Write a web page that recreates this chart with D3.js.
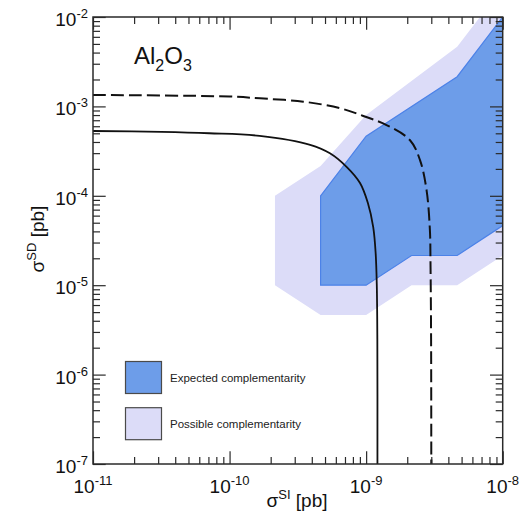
<!DOCTYPE html>
<html>
<head>
<meta charset="utf-8">
<script src="https://cdn.jsdelivr.net/npm/d3@7"></script>
<style>
  html, body { margin: 0; padding: 0; background: #fff; }
  svg { display: block; font-family: "Liberation Sans", Arial, Helvetica, sans-serif; }
</style>
</head>
<body>
<svg id="chart" width="532" height="519"></svg>
<script>
// Axis ranges and decade ticks (pb)
const xDomain = [1e-11, 1e-8];
const yDomain = [1e-7, 1e-2];
const xTickExps = [-11, -10, -9, -8];
const yTickExps = [-7, -6, -5, -4, -3, -2];

// Expected complementarity region (sigma_SI, sigma_SD)
const expectedSI = [4.64e-10, 1e-9, 4.64e-9, 1e-8, 1e-8, 4.64e-9, 2.15e-9, 1e-9, 4.64e-10];
const expectedSD = [1e-4, 4.64e-4, 2.15e-3, 1e-2, 4.64e-5, 2.15e-5, 2.15e-5, 1e-5, 1e-5];

// Possible complementarity region (sigma_SI, sigma_SD)
const possibleSI = [2.15e-10, 4.64e-10, 1e-9, 4.64e-9, 1e-8, 1e-8, 4.64e-9, 2.15e-9, 1e-9, 4.64e-10, 2.15e-10];
const possibleSD = [1e-4, 2.15e-4, 8e-4, 4.64e-3, 2.15e-2, 2.15e-5, 1e-5, 1e-5, 4.64e-6, 4.64e-6, 1e-5];

// Solid exclusion limit
const solidSI = [1e-11, 3.16e-11, 7.08e-11, 1.66e-10, 3.89e-10, 5.43e-10, 7.19e-10, 9.02e-10, 1.03e-9, 1.127e-9, 1.175e-9, 1.197e-9, 1.208e-9, 1.21e-9];
const solidSD = [5.31e-4, 5.19e-4, 5.01e-4, 4.68e-4, 3.72e-4, 2.99e-4, 2.11e-4, 1.39e-4, 8.3e-5, 4.47e-5, 2.24e-5, 1.0e-5, 2.5e-6, 1e-7];

// Dashed exclusion limit
const dashedSI = [1e-11, 1e-10, 1.67e-10, 3.47e-10, 6.43e-10, 9.53e-10, 1.41e-9, 2.09e-9, 2.48e-9, 2.77e-9, 2.93e-9, 2.96e-9, 2.99e-9, 3.0e-9];
const dashedSD = [1.34e-3, 1.29e-3, 1.23e-3, 1.13e-3, 9.55e-4, 7.82e-4, 6.19e-4, 4.21e-4, 2.51e-4, 1.16e-4, 4.14e-5, 1.78e-5, 2.45e-6, 1e-7];

const legendLabels = ["Expected complementarity", "Possible complementarity"];

const plotLeft = 93, plotRight = 502.7, plotTop = 17, plotBottom = 464;
const svg = d3.select("#chart");

const x = d3.scaleLog().domain(xDomain).range([plotLeft, plotRight]);
const y = d3.scaleLog().domain(yDomain).range([plotBottom, plotTop]);

const colors = { expected: "#6d9de9", expectedEdge: "#4c82e8", possible: "#dcdcf8" };

svg.append("defs").append("clipPath").attr("id", "plotClip")
  .append("rect").attr("x", plotLeft).attr("y", plotTop)
  .attr("width", plotRight - plotLeft).attr("height", plotBottom - plotTop);

const plot = svg.append("g").attr("clip-path", "url(#plotClip)");

const zip = (a, b) => a.map((v, i) => [v, b[i]]);
const area = d3.line().x(d => x(d[0])).y(d => y(d[1]));

plot.append("path")
  .datum(zip(possibleSI, possibleSD))
  .attr("d", d => area(d) + "Z")
  .attr("fill", colors.possible);

plot.append("path")
  .datum(zip(expectedSI, expectedSD))
  .attr("d", d => area(d) + "Z")
  .attr("fill", colors.expected)
  .attr("stroke", colors.expectedEdge)
  .attr("stroke-width", 1.2);

const curve = d3.line().x(d => x(d[0])).y(d => y(d[1])).curve(d3.curveCatmullRom.alpha(0.5));

plot.append("path")
  .datum(zip(dashedSI, dashedSD))
  .attr("d", curve)
  .attr("fill", "none").attr("stroke", "#111")
  .attr("stroke-width", 2).attr("stroke-dasharray", "13,5");

plot.append("path")
  .datum(zip(solidSI, solidSD))
  .attr("d", curve)
  .attr("fill", "none").attr("stroke", "#111")
  .attr("stroke-width", 1.8);

// Ticks on all four sides, pointing inward
function minorValues(exps) {
  const out = [];
  for (let i = 0; i < exps.length - 1; i++)
    for (let m = 2; m <= 9; m++) out.push(m * Math.pow(10, exps[i]));
  return out;
}
const xMajor = xTickExps.map(e => Math.pow(10, e));
const yMajor = yTickExps.map(e => Math.pow(10, e));
const xMinor = minorValues(xTickExps);
const yMinor = minorValues(yTickExps);

function drawAxis(axisFn, scale, pos, vals, size) {
  const g = svg.append("g")
    .attr("transform", pos)
    .call(axisFn(scale).tickValues(vals).tickSize(size).tickSizeOuter(0).tickFormat(""));
  g.select(".domain").remove();
  g.selectAll("line").attr("stroke", "#2a2a2a").attr("stroke-width", 1.2);
}
const majorLen = 12.7, minorLen = 7;
drawAxis(d3.axisBottom, x, `translate(0,${plotBottom})`, xMajor, -majorLen);
drawAxis(d3.axisBottom, x, `translate(0,${plotBottom})`, xMinor, -minorLen);
drawAxis(d3.axisTop, x, `translate(0,${plotTop})`, xMajor, -majorLen);
drawAxis(d3.axisTop, x, `translate(0,${plotTop})`, xMinor, -minorLen);
drawAxis(d3.axisLeft, y, `translate(${plotLeft},0)`, yMajor, -majorLen);
drawAxis(d3.axisLeft, y, `translate(${plotLeft},0)`, yMinor, -minorLen);
drawAxis(d3.axisRight, y, `translate(${plotRight},0)`, yMajor, -majorLen);
drawAxis(d3.axisRight, y, `translate(${plotRight},0)`, yMinor, -minorLen);

svg.append("rect")
  .attr("x", plotLeft).attr("y", plotTop)
  .attr("width", plotRight - plotLeft).attr("height", plotBottom - plotTop)
  .attr("fill", "none").attr("stroke", "#2a2a2a").attr("stroke-width", 1.5);

// Tick labels as powers of ten
function powerLabel(sel, exp) {
  sel.append("tspan").text("10");
  sel.append("tspan").attr("font-size", 13).attr("dy", -8).text(exp);
}
xTickExps.forEach(e => {
  const t = svg.append("text")
    .attr("x", x(Math.pow(10, e))).attr("y", 492.5)
    .attr("text-anchor", "middle").attr("font-size", 19).attr("fill", "#111");
  powerLabel(t, e);
});
yTickExps.forEach(e => {
  const t = svg.append("text")
    .attr("x", 88).attr("y", y(Math.pow(10, e)) + 9)
    .attr("text-anchor", "end").attr("font-size", 19).attr("fill", "#111");
  powerLabel(t, e);
});

// Axis titles
const xt = svg.append("text")
  .attr("x", 297).attr("y", 506.5)
  .attr("text-anchor", "middle").attr("font-size", 19).attr("fill", "#111");
xt.append("tspan").text("σ");
xt.append("tspan").attr("font-size", 13).attr("dy", -8).text("SI");
xt.append("tspan").attr("dy", 8).text(" [pb]");

const yt = svg.append("text")
  .attr("transform", "translate(44,239) rotate(-90)")
  .attr("text-anchor", "middle").attr("font-size", 19).attr("fill", "#111");
yt.append("tspan").text("σ");
yt.append("tspan").attr("font-size", 13).attr("dy", -8).text("SD");
yt.append("tspan").attr("dy", 8).text(" [pb]");

// Material label
const title = svg.append("text")
  .attr("x", 134).attr("y", 64)
  .attr("font-size", 24).attr("fill", "#111");
title.append("tspan").text("Al");
title.append("tspan").attr("font-size", 16).attr("dy", 7).text("2");
title.append("tspan").attr("dy", -7).text("O");
title.append("tspan").attr("font-size", 16).attr("dy", 7).text("3");

// Legend
const legend = svg.append("g");
const legendFills = [colors.expected, colors.possible];
legendLabels.forEach((label, i) => {
  const gy = 361.5 + i * 46.2;
  legend.append("rect")
    .attr("x", 125.5).attr("y", gy)
    .attr("width", 36).attr("height", 32)
    .attr("fill", legendFills[i]).attr("stroke", "#4a4a4a").attr("stroke-width", 1.2);
  legend.append("text")
    .attr("x", 170).attr("y", gy + 20)
    .attr("font-size", 11.5).attr("fill", "#222").text(label);
});
</script>
</body>
</html>
